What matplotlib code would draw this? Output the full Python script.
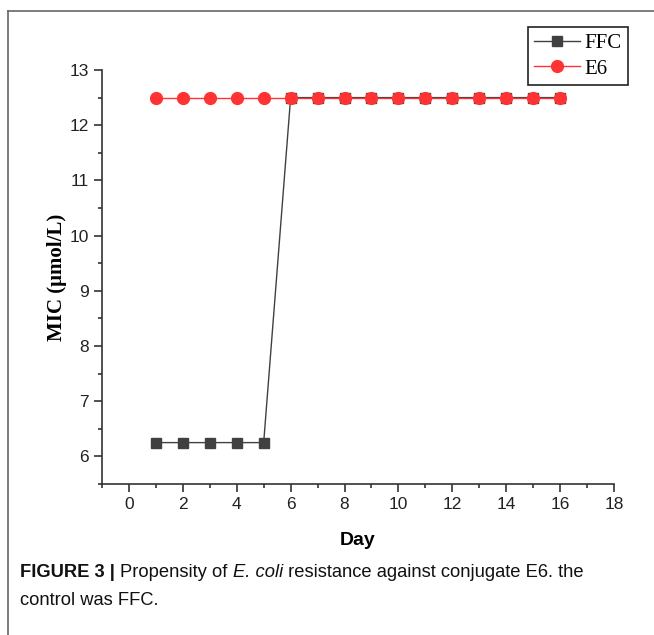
import matplotlib
matplotlib.use("Agg")
import matplotlib.pyplot as plt
from matplotlib.ticker import MultipleLocator
from matplotlib.lines import Line2D

days = list(range(1, 17))
ffc = [6.25, 6.25, 6.25, 6.25, 6.25] + [12.5] * 11
e6 = [12.5] * 16
series_names = ["FFC", "E6"]

W, H = 654, 635
fig = plt.figure(figsize=(W / 100, H / 100), dpi=100)
ax = fig.add_axes([102 / W, 1 - 484 / H, (614 - 102) / W, (484 - 70) / H])

ax.plot(days, ffc, color="#404040", lw=1.0, marker="s", ms=7.5, mfc="#404040", mec="#404040", label=series_names[0])
ax.plot(days, e6, color="#ff3333", lw=1.0, marker="o", ms=8.5, mfc="#ff3333", mec="#ff3333", label=series_names[1])

ax.set_xlim(-1, 18)
ax.set_ylim(5.5, 13)
ax.xaxis.set_major_locator(MultipleLocator(2))
ax.xaxis.set_minor_locator(MultipleLocator(1))
ax.yaxis.set_major_locator(MultipleLocator(1))
ax.yaxis.set_minor_locator(MultipleLocator(0.5))
for s in ["top", "right"]:
    ax.spines[s].set_visible(False)
for s in ["left", "bottom"]:
    ax.spines[s].set_color("#333333")
    ax.spines[s].set_linewidth(1.2)
ax.tick_params(which="major", direction="out", length=6, width=1.2, color="#333333",
               labelsize=12.5, labelcolor="#222222")
ax.tick_params(which="minor", direction="out", length=3, width=1.2, color="#333333")
for lbl in ax.get_xticklabels() + ax.get_yticklabels():
    lbl.set_fontfamily("Liberation Sans")

ax.set_xlabel("Day", fontsize=14, fontweight="bold", family="Liberation Sans", labelpad=14)
ax.set_ylabel("MIC (μmol/L)", fontsize=15, fontweight="bold", family="Liberation Serif")
ax.yaxis.set_label_coords((67 - 102) / (614 - 102), 0.5)

handles = [Line2D([], [], color="#404040", lw=1.0, marker="s", ms=7.5, mfc="#404040", mec="#404040"),
           Line2D([], [], color="#ff3333", lw=1.0, marker="o", ms=8.5, mfc="#ff3333", mec="#ff3333")]
leg = fig.legend(handles, series_names, loc="upper left",
                 bbox_to_anchor=(528 / W, 1 - 27 / H), frameon=True, fancybox=False,
                 edgecolor="#222222", framealpha=1, borderpad=0.3, handlelength=2.2,
                 handletextpad=0.2, labelspacing=0.3, borderaxespad=0,
                 prop={"family": "Liberation Serif", "size": 15})
leg.get_frame().set_linewidth(1.2)

# outer frame
fig.add_artist(Line2D([8 / W, 8 / W], [0, 1 - 11 / H], color="#666666", lw=1.2))
fig.add_artist(Line2D([8 / W, 1], [1 - 11 / H, 1 - 11 / H], color="#666666", lw=1.2))

# caption
renderer = fig.canvas.get_renderer()
cap_font = "Liberation Sans"
cap_size = 13.2
y1 = 1 - 577 / H
x = 20 / W
pieces = [("FIGURE 3 | ", "bold", "normal"), ("Propensity of ", "normal", "normal"),
          ("E. coli", "normal", "italic"), (" resistance against conjugate E6. the", "normal", "normal")]
for txt, wt, st in pieces:
    t = fig.text(x, y1, txt, fontsize=cap_size, fontweight=wt, fontstyle=st,
                 family=cap_font, color="#111111", va="baseline")
    bb = t.get_window_extent(renderer=renderer)
    x += bb.width / W
fig.text(20 / W, 1 - 605 / H, "control was FFC.", fontsize=cap_size, family=cap_font,
         color="#111111", va="baseline")

fig.savefig("out.png", dpi=100)
